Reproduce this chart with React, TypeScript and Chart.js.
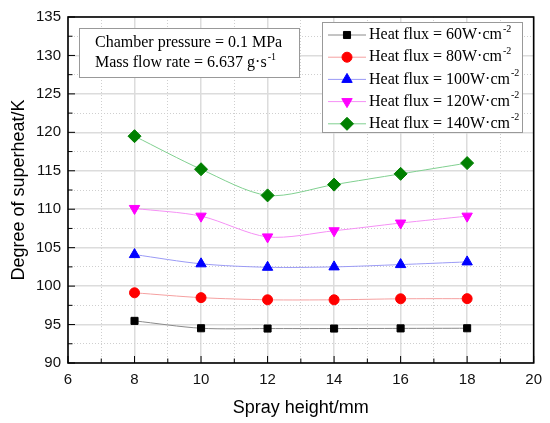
import { useEffect, useRef } from "react";
import { Chart, registerables } from "chart.js";
import { drawPoint } from "chart.js/helpers";
Chart.register(...registerables);

const sprayHeights = [8, 10, 12, 14, 16, 18];
const flux60 = [95.48, 94.52, 94.48, 94.48, 94.5, 94.52];
const flux80 = [99.13, 98.5, 98.22, 98.22, 98.35, 98.37];
const flux100 = [104.1, 102.9, 102.45, 102.5, 102.8, 103.15];
const flux120 = [110.1, 109.1, 106.4, 107.2, 108.2, 109.1];
const flux140 = [119.5, 115.2, 111.8, 113.2, 114.6, 116.0];
const fluxLabels = ["60", "80", "100", "120", "140"];
const noteLines = ["Chamber pressure = 0.1 MPa", "Mass flow rate = 6.637 g\u00b7s"];

const SERIF = "'Liberation Serif', 'Times New Roman', serif";
const SANS = "'Liberation Sans', Arial, sans-serif";

const series = [
  { values: flux60, line: "#8a8a8a", fill: "#000000", style: "rect", radius: 5, rotation: 0 },
  { values: flux80, line: "#f5a0a0", fill: "#ff0000", style: "circle", radius: 5, rotation: 0 },
  { values: flux100, line: "#9a9af5", fill: "#0000ff", style: "triangle", radius: 6, rotation: 0 },
  { values: flux120, line: "#f590f5", fill: "#ff00ff", style: "triangle", radius: 6, rotation: 180 },
  { values: flux140, line: "#80d090", fill: "#008000", style: "rectRot", radius: 6.5, rotation: 0 },
];

const framePlugin = {
  id: "frame",
  afterDraw(chart: any) {
    const { ctx, chartArea: a, scales } = chart;
    ctx.save();
    ctx.strokeStyle = "#000";
    ctx.lineWidth = 1;
    // inward ticks
    ctx.beginPath();
    scales.x.ticks.forEach((t: any) => {
      const px = scales.x.getPixelForValue(t.value);
      const len = t.value % 2 === 0 ? 7 : 4.5;
      ctx.moveTo(px, a.bottom);
      ctx.lineTo(px, a.bottom - len);
    });
    scales.y.ticks.forEach((t: any) => {
      const py = scales.y.getPixelForValue(t.value);
      const len = t.value % 5 === 0 ? 7 : 4.5;
      ctx.moveTo(a.left, py);
      ctx.lineTo(a.left + len, py);
    });
    ctx.stroke();
    ctx.lineWidth = 1.6;
    ctx.strokeRect(a.left, a.top, a.right - a.left, a.bottom - a.top);

    // note box
    ctx.fillStyle = "#fff";
    ctx.fillRect(79, 28, 220, 49);
    ctx.strokeStyle = "#999";
    ctx.lineWidth = 1;
    ctx.strokeRect(79.5, 28.5, 220, 49);
    ctx.fillStyle = "#000";
    ctx.textBaseline = "middle";
    ctx.font = `16px ${SERIF}`;
    ctx.fillText(noteLines[0], 95, 43);
    ctx.fillText(noteLines[1], 95, 63);
    const w = ctx.measureText(noteLines[1]).width;
    ctx.font = `10px ${SERIF}`;
    ctx.fillText("-1", 95 + w + 1, 57);

    // legend
    ctx.fillStyle = "#fff";
    ctx.fillRect(322, 22, 200, 110);
    ctx.strokeStyle = "#999";
    ctx.strokeRect(322.5, 22.5, 200, 110);
    series.forEach((s, i) => {
      const y = 35 + i * 22.2;
      ctx.strokeStyle = s.line;
      ctx.lineWidth = 1;
      ctx.beginPath();
      ctx.moveTo(328, y);
      ctx.lineTo(366, y);
      ctx.stroke();
      ctx.fillStyle = s.fill;
      ctx.strokeStyle = s.fill;
      drawPoint(ctx, { pointStyle: s.style as any, radius: s.radius, rotation: s.rotation, borderWidth: 1 }, 347, y);
      ctx.fillStyle = "#000";
      ctx.font = `16px ${SERIF}`;
      const txt = `Heat flux = ${fluxLabels[i]}W\u00b7cm`;
      ctx.fillText(txt, 369, y);
      const tw = ctx.measureText(txt).width;
      ctx.font = `10px ${SERIF}`;
      ctx.fillText("-2", 369 + tw + 1, y - 6);
    });
    ctx.restore();
  },
};

export default function App() {
  const canvasRef = useRef<HTMLCanvasElement | null>(null);

  useEffect(() => {
    if (!canvasRef.current) return;
    const ctx = canvasRef.current.getContext("2d");
    if (!ctx) return;

    const chart = new Chart(ctx, {
      type: "line",
      data: {
        datasets: series.map((s, i) => ({
          label: `Heat flux = ${fluxLabels[i]}W\u00b7cm\u207b\u00b2`,
          data: sprayHeights.map((x, j) => ({ x, y: s.values[j] })),
          borderColor: s.line,
          borderWidth: 1,
          backgroundColor: s.fill,
          pointBackgroundColor: s.fill,
          pointBorderColor: s.fill,
          pointStyle: s.style as any,
          pointRadius: s.radius,
          pointRotation: s.rotation,
          tension: 0.3,
        })),
      },
      options: {
        responsive: false,
        animation: false,
        layout: { padding: { top: 17, right: 16, left: 0, bottom: 0 } },
        plugins: { legend: { display: false }, tooltip: { enabled: false } },
        scales: {
          x: {
            type: "linear",
            min: 6,
            max: 20,
            afterFit: (scale: any) => { scale.height = 60; },
            ticks: {
              stepSize: 1,
              autoSkip: false,
              maxRotation: 0,
              padding: 8,
              color: "#111",
              font: { family: SANS, size: 15 },
              callback: (v: any) => (Number(v) % 2 === 0 ? String(v) : ""),
            },
            grid: {
              drawTicks: false,
              color: (c: any) => (c.tick && c.tick.value % 2 === 0 ? "#dcdcdc" : "#cfcfcf"),
              lineWidth: (c: any) => (c.tick && c.tick.value % 2 === 0 ? 1.5 : 1),
            },
            border: { display: false, dash: (c: any) => (c.tick && c.tick.value % 2 === 0 ? [] : [1, 2]) },
            title: { display: true, text: "Spray height/mm", color: "#000", font: { family: SANS, size: 18 }, padding: { top: 0, bottom: 4 } },
          },
          y: {
            min: 90,
            max: 135,
            afterFit: (scale: any) => { scale.width = 68; },
            ticks: {
              stepSize: 2.5,
              autoSkip: false,
              padding: 7,
              color: "#111",
              font: { family: SANS, size: 15 },
              callback: (v: any) => (Number(v) % 5 === 0 ? String(v) : ""),
            },
            grid: {
              drawTicks: false,
              color: (c: any) => (c.tick && c.tick.value % 5 === 0 ? "#dcdcdc" : "#cfcfcf"),
              lineWidth: (c: any) => (c.tick && c.tick.value % 5 === 0 ? 1.5 : 1),
            },
            border: { display: false, dash: (c: any) => (c.tick && c.tick.value % 5 === 0 ? [] : [1, 2]) },
            title: { display: true, text: "Degree of superheat/K", color: "#000", font: { family: SANS, size: 18 }, padding: { top: 8, bottom: 0 } },
          },
        },
      },
      plugins: [framePlugin],
    });

    return () => chart.destroy();
  }, []);

  return (
    <div style={{ position: "absolute", left: 0, top: 0, width: 550, height: 423, background: "#fff" }}>
      <canvas ref={canvasRef} width={550} height={423} />
    </div>
  );
}
